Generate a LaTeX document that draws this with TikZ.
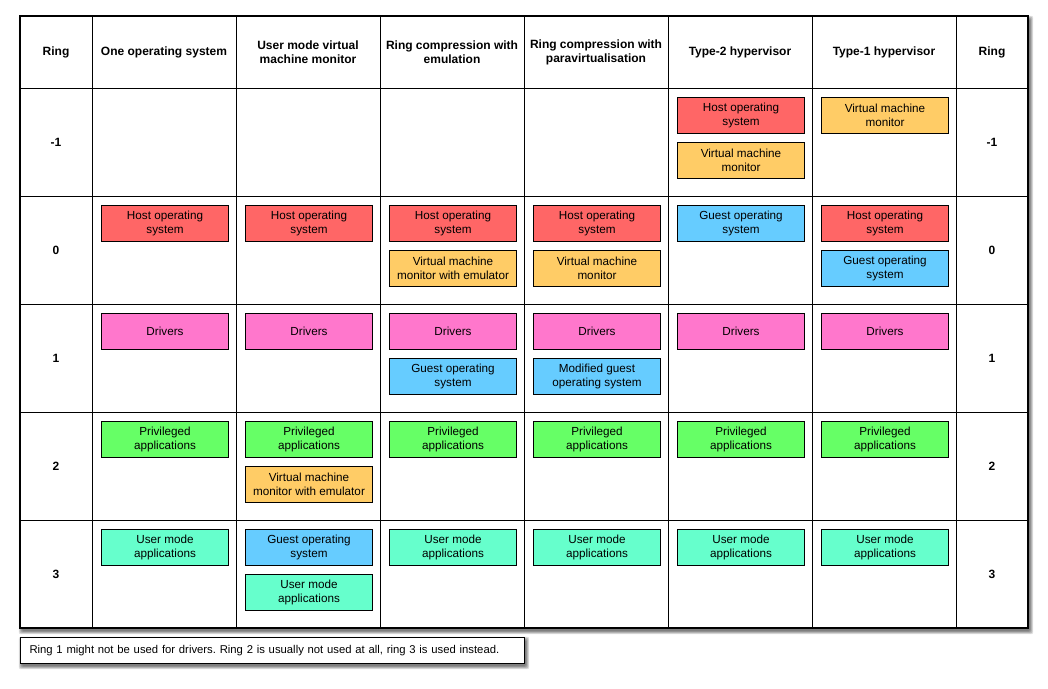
\documentclass[tikz,border=0pt]{standalone}
\usepackage{fontspec}
\setmainfont{Liberation Sans}
\frenchspacing
\definecolor{cred}{HTML}{FF6666}
\definecolor{corange}{HTML}{FFCC66}
\definecolor{cblue}{HTML}{66CCFF}
\definecolor{cpink}{HTML}{FF77CC}
\definecolor{cgreen}{HTML}{66FF66}
\definecolor{caqua}{HTML}{66FFCC}
\tikzset{
  cbox/.style={draw=black, line width=1pt, rectangle, anchor=north west,
    minimum width=127pt, minimum height=36pt, inner sep=0pt, align=center,
    font=\fontsize{11.7}{14}\selectfont, text=black},
  hdr/.style={align=center, font=\fontsize{12}{14}\selectfont\bfseries, inner sep=0pt},
  ringlbl/.style={font=\fontsize{12}{14}\selectfont\bfseries, inner sep=0pt},
}
\newcommand{\cellbox}[6]{\node[cbox, fill=#5] (#1) at (#2+9, #3+9+#4*45) {#6};}
\newcommand{\softshadow}[4]{%
  \foreach \k in {0,1,2,3,4}{
    \fill[black, opacity=0.13, rounded corners=2pt] (#1+2-\k*0.8, #2+3-\k*0.8) rectangle (#3+2+\k*0.8, #4+3+\k*0.8);
  }}
\begin{document}
\begin{tikzpicture}[x=1pt, y=-1pt]
\useasboundingbox (0,0) rectangle (1048,688);
% shadows
\softshadow{20}{16}{1028}{628}
\softshadow{20}{637}{524}{663}
% table
\fill[white] (20,16) rectangle (1028,628);
\foreach \cx in {92,236,380,524,668,812,956}{\draw[line width=1pt] (\cx,16) -- (\cx,628);}
\foreach \ry in {88,196,304,412,520}{\draw[line width=1pt] (20,\ry) -- (1028,\ry);}
\draw[line width=1.3pt] (20,16) rectangle (1028,628);
% headers
\node[hdr] (h0) at (56,52) {Ring};
\node[hdr] (h1) at (164,52) {One operating system};
\node[hdr] (h2) at (308,52) {User mode virtual\\machine monitor};
\node[hdr] (h3) at (452,52) {Ring compression with\\emulation};
\node[hdr] (h4) at (596,52) {Ring compression with\\paravirtualisation};
\node[hdr] (h5) at (740,52) {Type-2 hypervisor};
\node[hdr] (h6) at (884,52) {Type-1 hypervisor};
\node[hdr] (h7) at (992,52) {Ring};
% ring labels
\node[ringlbl] (lm1) at (56,142) {-1};
\node[ringlbl] (l0) at (56,250) {0};
\node[ringlbl] (l1) at (56,358) {1};
\node[ringlbl] (l2) at (56,466) {2};
\node[ringlbl] (l3) at (56,574) {3};
\node[ringlbl] (rm1) at (992,142) {-1};
\node[ringlbl] (r0) at (992,250) {0};
\node[ringlbl] (r1) at (992,358) {1};
\node[ringlbl] (r2) at (992,466) {2};
\node[ringlbl] (r3) at (992,574) {3};
% column 1
\cellbox{a0}{92}{196}{0}{cred}{Host operating\\system}
\cellbox{a1}{92}{304}{0}{cpink}{Drivers}
\cellbox{a2}{92}{412}{0}{cgreen}{Privileged\\applications}
\cellbox{a3}{92}{520}{0}{caqua}{User mode\\applications}
% column 2
\cellbox{b0}{236}{196}{0}{cred}{Host operating\\system}
\cellbox{b1}{236}{304}{0}{cpink}{Drivers}
\cellbox{b2}{236}{412}{0}{cgreen}{Privileged\\applications}
\cellbox{b2b}{236}{412}{1}{corange}{Virtual machine\\monitor with emulator}
\cellbox{b3}{236}{520}{0}{cblue}{Guest operating\\system}
\cellbox{b3b}{236}{520}{1}{caqua}{User mode\\applications}
% column 3
\cellbox{c0}{380}{196}{0}{cred}{Host operating\\system}
\cellbox{c0b}{380}{196}{1}{corange}{Virtual machine\\monitor with emulator}
\cellbox{c1}{380}{304}{0}{cpink}{Drivers}
\cellbox{c1b}{380}{304}{1}{cblue}{Guest operating\\system}
\cellbox{c2}{380}{412}{0}{cgreen}{Privileged\\applications}
\cellbox{c3}{380}{520}{0}{caqua}{User mode\\applications}
% column 4
\cellbox{d0}{524}{196}{0}{cred}{Host operating\\system}
\cellbox{d0b}{524}{196}{1}{corange}{Virtual machine\\monitor}
\cellbox{d1}{524}{304}{0}{cpink}{Drivers}
\cellbox{d1b}{524}{304}{1}{cblue}{Modified guest\\operating system}
\cellbox{d2}{524}{412}{0}{cgreen}{Privileged\\applications}
\cellbox{d3}{524}{520}{0}{caqua}{User mode\\applications}
% column 5
\cellbox{e9}{668}{88}{0}{cred}{Host operating\\system}
\cellbox{e9b}{668}{88}{1}{corange}{Virtual machine\\monitor}
\cellbox{e0}{668}{196}{0}{cblue}{Guest operating\\system}
\cellbox{e1}{668}{304}{0}{cpink}{Drivers}
\cellbox{e2}{668}{412}{0}{cgreen}{Privileged\\applications}
\cellbox{e3}{668}{520}{0}{caqua}{User mode\\applications}
% column 6
\cellbox{f9}{812}{88}{0}{corange}{Virtual machine\\monitor}
\cellbox{f0}{812}{196}{0}{cred}{Host operating\\system}
\cellbox{f0b}{812}{196}{1}{cblue}{Guest operating\\system}
\cellbox{f1}{812}{304}{0}{cpink}{Drivers}
\cellbox{f2}{812}{412}{0}{cgreen}{Privileged\\applications}
\cellbox{f3}{812}{520}{0}{caqua}{User mode\\applications}
% note
\node[draw=black, line width=1pt, fill=white, anchor=north west, minimum height=26pt, inner xsep=9pt, inner ysep=0pt, text width=486pt, align=left, font=\fontsize{11.3}{14}\selectfont] (note) at (20,637) {Ring 1 might not be used for drivers. Ring 2 is usually not used at all, ring 3 is used instead.};
\end{tikzpicture}
\end{document}
